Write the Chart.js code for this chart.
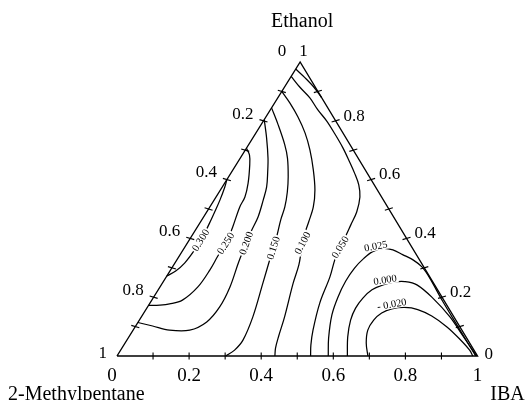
<!DOCTYPE html>
<html>
<head>
<meta charset="utf-8">
<script src="https://cdn.jsdelivr.net/npm/chart.js@4.4.0/dist/chart.umd.min.js"></script>
<style>
  html, body { margin: 0; padding: 0; background: #fff; }
  #wrap { width: 531px; height: 400px; }
</style>
</head>
<body>
<div id="wrap"><canvas id="ternary" width="531" height="400"></canvas></div>
<script>
// Every composition is [IBA, Ethanol] (mole fractions); 2-methylpentane = 1 - IBA - Ethanol
const axisNames = { top: 'Ethanol', left: '2-Methylpentane', right: 'IBA' };
const tickValues = [0.1, 0.2, 0.3, 0.4, 0.5, 0.6, 0.7, 0.8, 0.9];
const labelValues = [0, 0.2, 0.4, 0.6, 0.8, 1];
const labelTexts = ['0', '0.2', '0.4', '0.6', '0.8', '1'];

// contour lines
const c300 = [[0, 0.600], [0.007, 0.575], [0.016, 0.531], [0.022, 0.490], [0.027, 0.452], [0.032, 0.405],
  [0.032, 0.361], [0.027, 0.316], [0.016, 0.289], [0, 0.272]];
const c250 = [[0, 0.707], [0.020, 0.684], [0.038, 0.650], [0.065, 0.588], [0.080, 0.541], [0.083, 0.507],
  [0.098, 0.439], [0.107, 0.388], [0.107, 0.340], [0.109, 0.293], [0.105, 0.235], [0.085, 0.190],
  [0.056, 0.177], [0.031, 0.173], [0, 0.172]];
const c200 = [[0, 0.804], [0.038, 0.742], [0.077, 0.673], [0.100, 0.626], [0.123, 0.575], [0.136, 0.531],
  [0.151, 0.473], [0.157, 0.422], [0.166, 0.371], [0.175, 0.320], [0.194, 0.235], [0.200, 0.167],
  [0.190, 0.116], [0.157, 0.088], [0.101, 0.088], [0.047, 0.102], [0, 0.114]];
const c150 = [[0, 0.844], [0.047, 0.787], [0.100, 0.719], [0.131, 0.673], [0.165, 0.610], [0.189, 0.558],
  [0.208, 0.507], [0.219, 0.463], [0.240, 0.395], [0.254, 0.340], [0.279, 0.247], [0.309, 0.134],
  [0.322, 0.054], [0.316, 0.020], [0.302, 0]];
const c100 = [[0, 0.900], [0.042, 0.861], [0.089, 0.813], [0.136, 0.759], [0.179, 0.701], [0.223, 0.633],
  [0.262, 0.565], [0.287, 0.507], [0.300, 0.456], [0.312, 0.405], [0.328, 0.361], [0.347, 0.310],
  [0.363, 0.247], [0.397, 0.134], [0.414, 0.068], [0.426, 0.027], [0.438, 0]];
const c050 = [[0, 0.951], [0.042, 0.915], [0.089, 0.878], [0.132, 0.837], [0.176, 0.799], [0.221, 0.755],
  [0.267, 0.708], [0.310, 0.660], [0.343, 0.622], [0.375, 0.582], [0.399, 0.541], [0.416, 0.490],
  [0.422, 0.446], [0.428, 0.401], [0.432, 0.361], [0.438, 0.327], [0.454, 0.269], [0.471, 0.180],
  [0.499, 0.088], [0.519, 0.037], [0.537, 0]];
const c025top = [[0, 0.976], [0.040, 0.947], [0.081, 0.915], [0.121, 0.879]];
const c025 = [[0.586, 0], [0.556, 0.061], [0.525, 0.140], [0.511, 0.201], [0.505, 0.255], [0.507, 0.299],
  [0.516, 0.332], [0.529, 0.355], [0.552, 0.366], [0.582, 0.361], [0.617, 0.345], [0.655, 0.327],
  [0.692, 0.303], [0.733, 0.265], [0.808, 0.187], [0.900, 0.095], [0.995, 0]];
const c000 = [[0.639, 0], [0.607, 0.065], [0.586, 0.122], [0.579, 0.163], [0.582, 0.197], [0.593, 0.225],
  [0.615, 0.242], [0.643, 0.252], [0.670, 0.253], [0.709, 0.242], [0.776, 0.197], [0.856, 0.133],
  [0.925, 0.068], [0.972, 0.024], [0.998, 0]];
const cm020 = [[0.696, 0], [0.669, 0.044], [0.651, 0.088], [0.650, 0.122], [0.660, 0.146], [0.681, 0.160],
  [0.714, 0.165], [0.754, 0.158], [0.804, 0.136], [0.865, 0.099], [0.921, 0.058], [0.968, 0.020],
  [0.987, 0]];

const contours = [c300, c250, c200, c150, c100, c050, c025top, c025, c000, cm020];
const frame = [[0, 0], [1, 0], [0, 1], [0, 0]];

// where each level is written: index along its line, shift up in px, optional angle (deg)
const contourLabels = [
  { text: '0.300', line: c300, at: 5.25 },
  { text: '0.250', line: c250, at: 7.1 },
  { text: '0.200', line: c200, at: 7.75, angle: -70 },
  { text: '0.150', line: c150, at: 8.5 },
  { text: '0.100', line: c100, at: 9.47, angle: -62 },
  { text: '0.050', line: c050, at: 13.77, angle: -58 },
  { text: '0.025', line: c025, at: 7.3, up: 4.5, angle: -10 },
  { text: '0.000', line: c000, at: 6.17, up: 4.5, angle: -9 },
  { text: '- 0.020', line: cm020, at: 5.0, up: 4.7, angle: -10 }
];

// the printed triangle leans a little: apex sits at 0.508 of the base
const APEX = 0.508;
function toXY(c) {
  return { x: c[0] + APEX * c[1], y: c[1] };
}

const INK = '#000';

const ternaryDecor = {
  id: 'ternaryDecor',
  afterDatasetsDraw(chart) {
    const ctx = chart.ctx;
    const xs = chart.scales.x, ys = chart.scales.y;
    const px = (c) => {
      const p = toXY(c);
      return [xs.getPixelForValue(p.x), ys.getPixelForValue(p.y)];
    };
    const seg = (x1, y1, x2, y2) => {
      ctx.beginPath(); ctx.moveTo(x1, y1); ctx.lineTo(x2, y2); ctx.stroke();
    };

    ctx.save();
    ctx.strokeStyle = INK;
    ctx.fillStyle = INK;
    ctx.lineWidth = 1.1;

    // ticks
    tickValues.forEach(v => {
      let [x, y] = px([v, 0]);          // IBA on the base
      seg(x, y - 3.5, x, y + 3.5);
      [x, y] = px([0, 1 - v]);          // 2-methylpentane on the left side
      seg(x - 4, y - 1.2, x + 4, y + 1.2);
      [x, y] = px([1 - v, v]);          // ethanol on the right side
      seg(x - 4, y + 1.2, x + 4, y - 1.2);
    });

    // tick labels
    ctx.textBaseline = 'alphabetic';
    ctx.font = '19px "Liberation Serif"';
    ctx.textAlign = 'center';
    labelValues.forEach((v, k) => {
      const [x, y] = px([v, 0]);
      ctx.fillText(labelTexts[k], x + (v === 0 ? -5 : 0), y + 24.5);
    });

    ctx.font = '17px "Liberation Serif"';
    ctx.textAlign = 'right';
    labelValues.forEach((v, k) => {
      const [x, y] = px([0, 1 - v]);
      let dx = -10, dy = -8;
      if (v === 0) { dx = -14; dy = -12; }
      if (v === 1) { dy = -4; }
      ctx.fillText(labelTexts[k], x + dx, y + dy + 5.8);
    });

    ctx.textAlign = 'left';
    labelValues.forEach((v, k) => {
      const [x, y] = px([1 - v, v]);
      let dx = 8, dy = -6;
      if (v === 1) { dx = -1; dy = -12; }
      if (v === 0) { dx = 7; dy = -3; }
      ctx.fillText(labelTexts[k], x + dx, y + dy + 5.8);
    });

    // axis names
    ctx.font = '20px "Liberation Serif"';
    const top = px([0, 1]), left = px([0, 0]), right = px([1, 0]);
    ctx.textAlign = 'center';
    ctx.fillText(axisNames.top, top[0] + 2, 27);
    ctx.fillText(axisNames.right, right[0] + 30, 400);
    ctx.textAlign = 'left';
    ctx.fillText(axisNames.left, left[0] - 109, 400);

    // contour level labels, set into a gap of the line
    ctx.font = '10.5px "Liberation Serif"';
    ctx.textAlign = 'center';
    ctx.textBaseline = 'middle';
    contourLabels.forEach(lb => {
      const k = Math.floor(lb.at), f = lb.at - k;
      const a = px(lb.line[k]);
      const b = px(lb.line[Math.min(k + 1, lb.line.length - 1)]);
      const x = a[0] + (b[0] - a[0]) * f;
      const y = a[1] + (b[1] - a[1]) * f - (lb.up || 0);
      let ang = Math.atan2(b[1] - a[1], b[0] - a[0]);
      if (ang > Math.PI / 2) ang -= Math.PI;
      if (ang < -Math.PI / 2) ang += Math.PI;
      if (lb.angle !== undefined) ang = lb.angle * Math.PI / 180;
      const w = ctx.measureText(lb.text).width;
      ctx.save();
      ctx.translate(x, y);
      ctx.rotate(ang);
      ctx.fillStyle = '#fff';
      ctx.fillRect(-w / 2 - 1.5, -4.5, w + 3, 9);
      ctx.fillStyle = INK;
      ctx.fillText(lb.text, 0, 0.5);
      ctx.restore();
    });

    ctx.restore();
  }
};

const datasets = contours.map(c => ({
  data: c.map(toXY),
  showLine: true,
  borderColor: INK,
  borderWidth: 1.25,
  pointRadius: 0,
  tension: 0.35,
  clip: false
}));
datasets.push({
  data: frame.map(toXY),
  showLine: true,
  borderColor: INK,
  borderWidth: 1.4,
  pointRadius: 0,
  tension: 0,
  clip: false
});

new Chart(document.getElementById('ternary').getContext('2d'), {
  type: 'scatter',
  data: { datasets },
  options: {
    responsive: false,
    maintainAspectRatio: false,
    animation: false,
    events: [],
    layout: { padding: { left: 117, right: 53.5, top: 62, bottom: 44 } },
    scales: {
      x: { type: 'linear', min: 0, max: 1, display: false },
      y: { type: 'linear', min: 0, max: 1, display: false }
    },
    plugins: { legend: { display: false }, tooltip: { enabled: false } }
  },
  plugins: [ternaryDecor]
});
</script>
</body>
</html>
